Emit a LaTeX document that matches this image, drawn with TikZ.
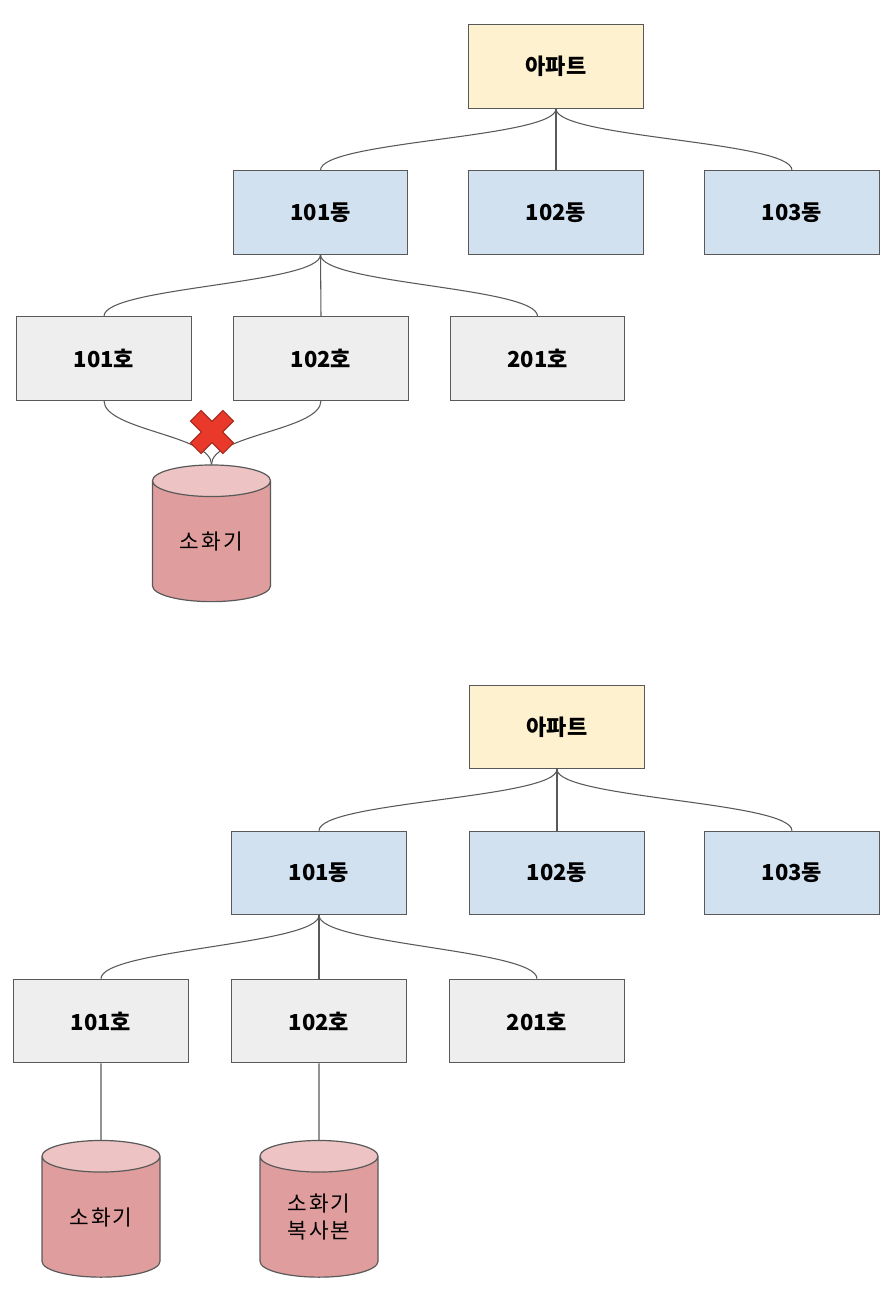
\documentclass[tikz,border=0pt]{standalone}
\usepackage{fontspec}
\setmainfont{Noto Sans CJK KR}
\usetikzlibrary{shapes.geometric}
\definecolor{aptyellow}{HTML}{FDF1CF}
\definecolor{dongblue}{HTML}{D2E1F0}
\definecolor{hogray}{HTML}{EEEEEE}
\definecolor{tankred}{HTML}{E09D9D}
\definecolor{tanktop}{HTML}{EDC3C3}
\definecolor{linegray}{HTML}{595959}
\definecolor{xred}{HTML}{E8392B}
\definecolor{xdark}{HTML}{A52A1E}
\def\xmark#1{%
  \filldraw[fill=xred,draw=xdark,line width=0.7pt,shift={(#1)},rotate=45]
    (7.5,23) -- (-7.5,23) -- (-7.5,7.5) -- (-23,7.5) -- (-23,-7.5) -- (-7.5,-7.5)
    -- (-7.5,-23) -- (7.5,-23) -- (7.5,-7.5) -- (23,-7.5) -- (23,7.5) -- (7.5,7.5) -- cycle;
}

\begin{document}
\begin{tikzpicture}[x=0.75pt,y=-0.75pt,
    box/.style={draw=linegray,line width=0.9pt,minimum width=131pt,minimum height=62.5pt,
      inner sep=0pt,font=\bfseries\fontsize{16.5}{19}\selectfont},
    apt/.style={box,fill=aptyellow},
    dong/.style={box,fill=dongblue},
    ho/.style={box,fill=hogray},
    tank/.style={cylinder,shape border rotate=90,draw=linegray,line width=0.9pt,aspect=0.5,
      minimum height=102.5pt,minimum width=88.5pt,inner sep=0pt,align=center,
      cylinder uses custom fill,cylinder body fill=tankred,cylinder end fill=tanktop,
      font=\fontsize{16}{20}\selectfont\addfontfeature{LetterSpace=10}},
    edge/.style={draw=linegray,line width=0.8pt},
    tie/.style={out=-90,in=90,out distance=22pt,in distance=22pt}]
    \useasboundingbox (0,0) rectangle (894,1296);

    % oben
    \node[apt] (apt) at (556,66.5) {아파트};
    \node[dong] (d101) at (320.5,212.5) {101동};
    \node[dong] (d102) at (556,212.5) {102동};
    \node[dong] (d103) at (792,212.5) {103동};
    \node[ho] (h101) at (104,358.5) {101호};
    \node[ho] (h102) at (321,358.5) {102호};
    \node[ho] (h201) at (537.5,358.5) {201호};
    \node[tank] (tank) at (211.5,541.5) {소화기};
    \coordinate (cut) at (212,432);

    \draw[edge] (apt.south) to[tie] (d101.north);
    \draw[edge] (apt.south) -- (d102.north);
    \draw[edge] (apt.south) to[tie] (d103.north);
    \draw[edge] (d101.south) to[tie] (h101.north);
    \draw[edge] (d101.south) -- (h102.north);
    \draw[edge] (d101.south) to[tie] (h201.north);
    \draw[edge] (h101.south) to[tie] (tank.north);
    \draw[edge] (h102.south) to[tie] (tank.north);
    \xmark{cut}

    % unten
    \node[apt] (aptb) at (557,727) {아파트};
    \node[dong] (d101b) at (319,873) {101동};
    \node[dong] (d102b) at (557,873) {102동};
    \node[dong] (d103b) at (792,873) {103동};
    \node[ho] (h101b) at (101,1021) {101호};
    \node[ho] (h102b) at (319,1021) {102호};
    \node[ho] (h201b) at (537,1021) {201호};
    \node[tank] (tanka) at (101,1217) {소화기};
    \node[tank] (tankb) at (319,1217) {소화기\\복사본};

    \draw[edge] (aptb.south) to[tie] (d101b.north);
    \draw[edge] (aptb.south) -- (d102b.north);
    \draw[edge] (aptb.south) to[tie] (d103b.north);
    \draw[edge] (d101b.south) to[tie] (h101b.north);
    \draw[edge] (d101b.south) -- (h102b.north);
    \draw[edge] (d101b.south) to[tie] (h201b.north);
    \draw[edge] (h101b.south) -- (tanka.north);
    \draw[edge] (h102b.south) -- (tankb.north);
\end{tikzpicture}
\end{document}
